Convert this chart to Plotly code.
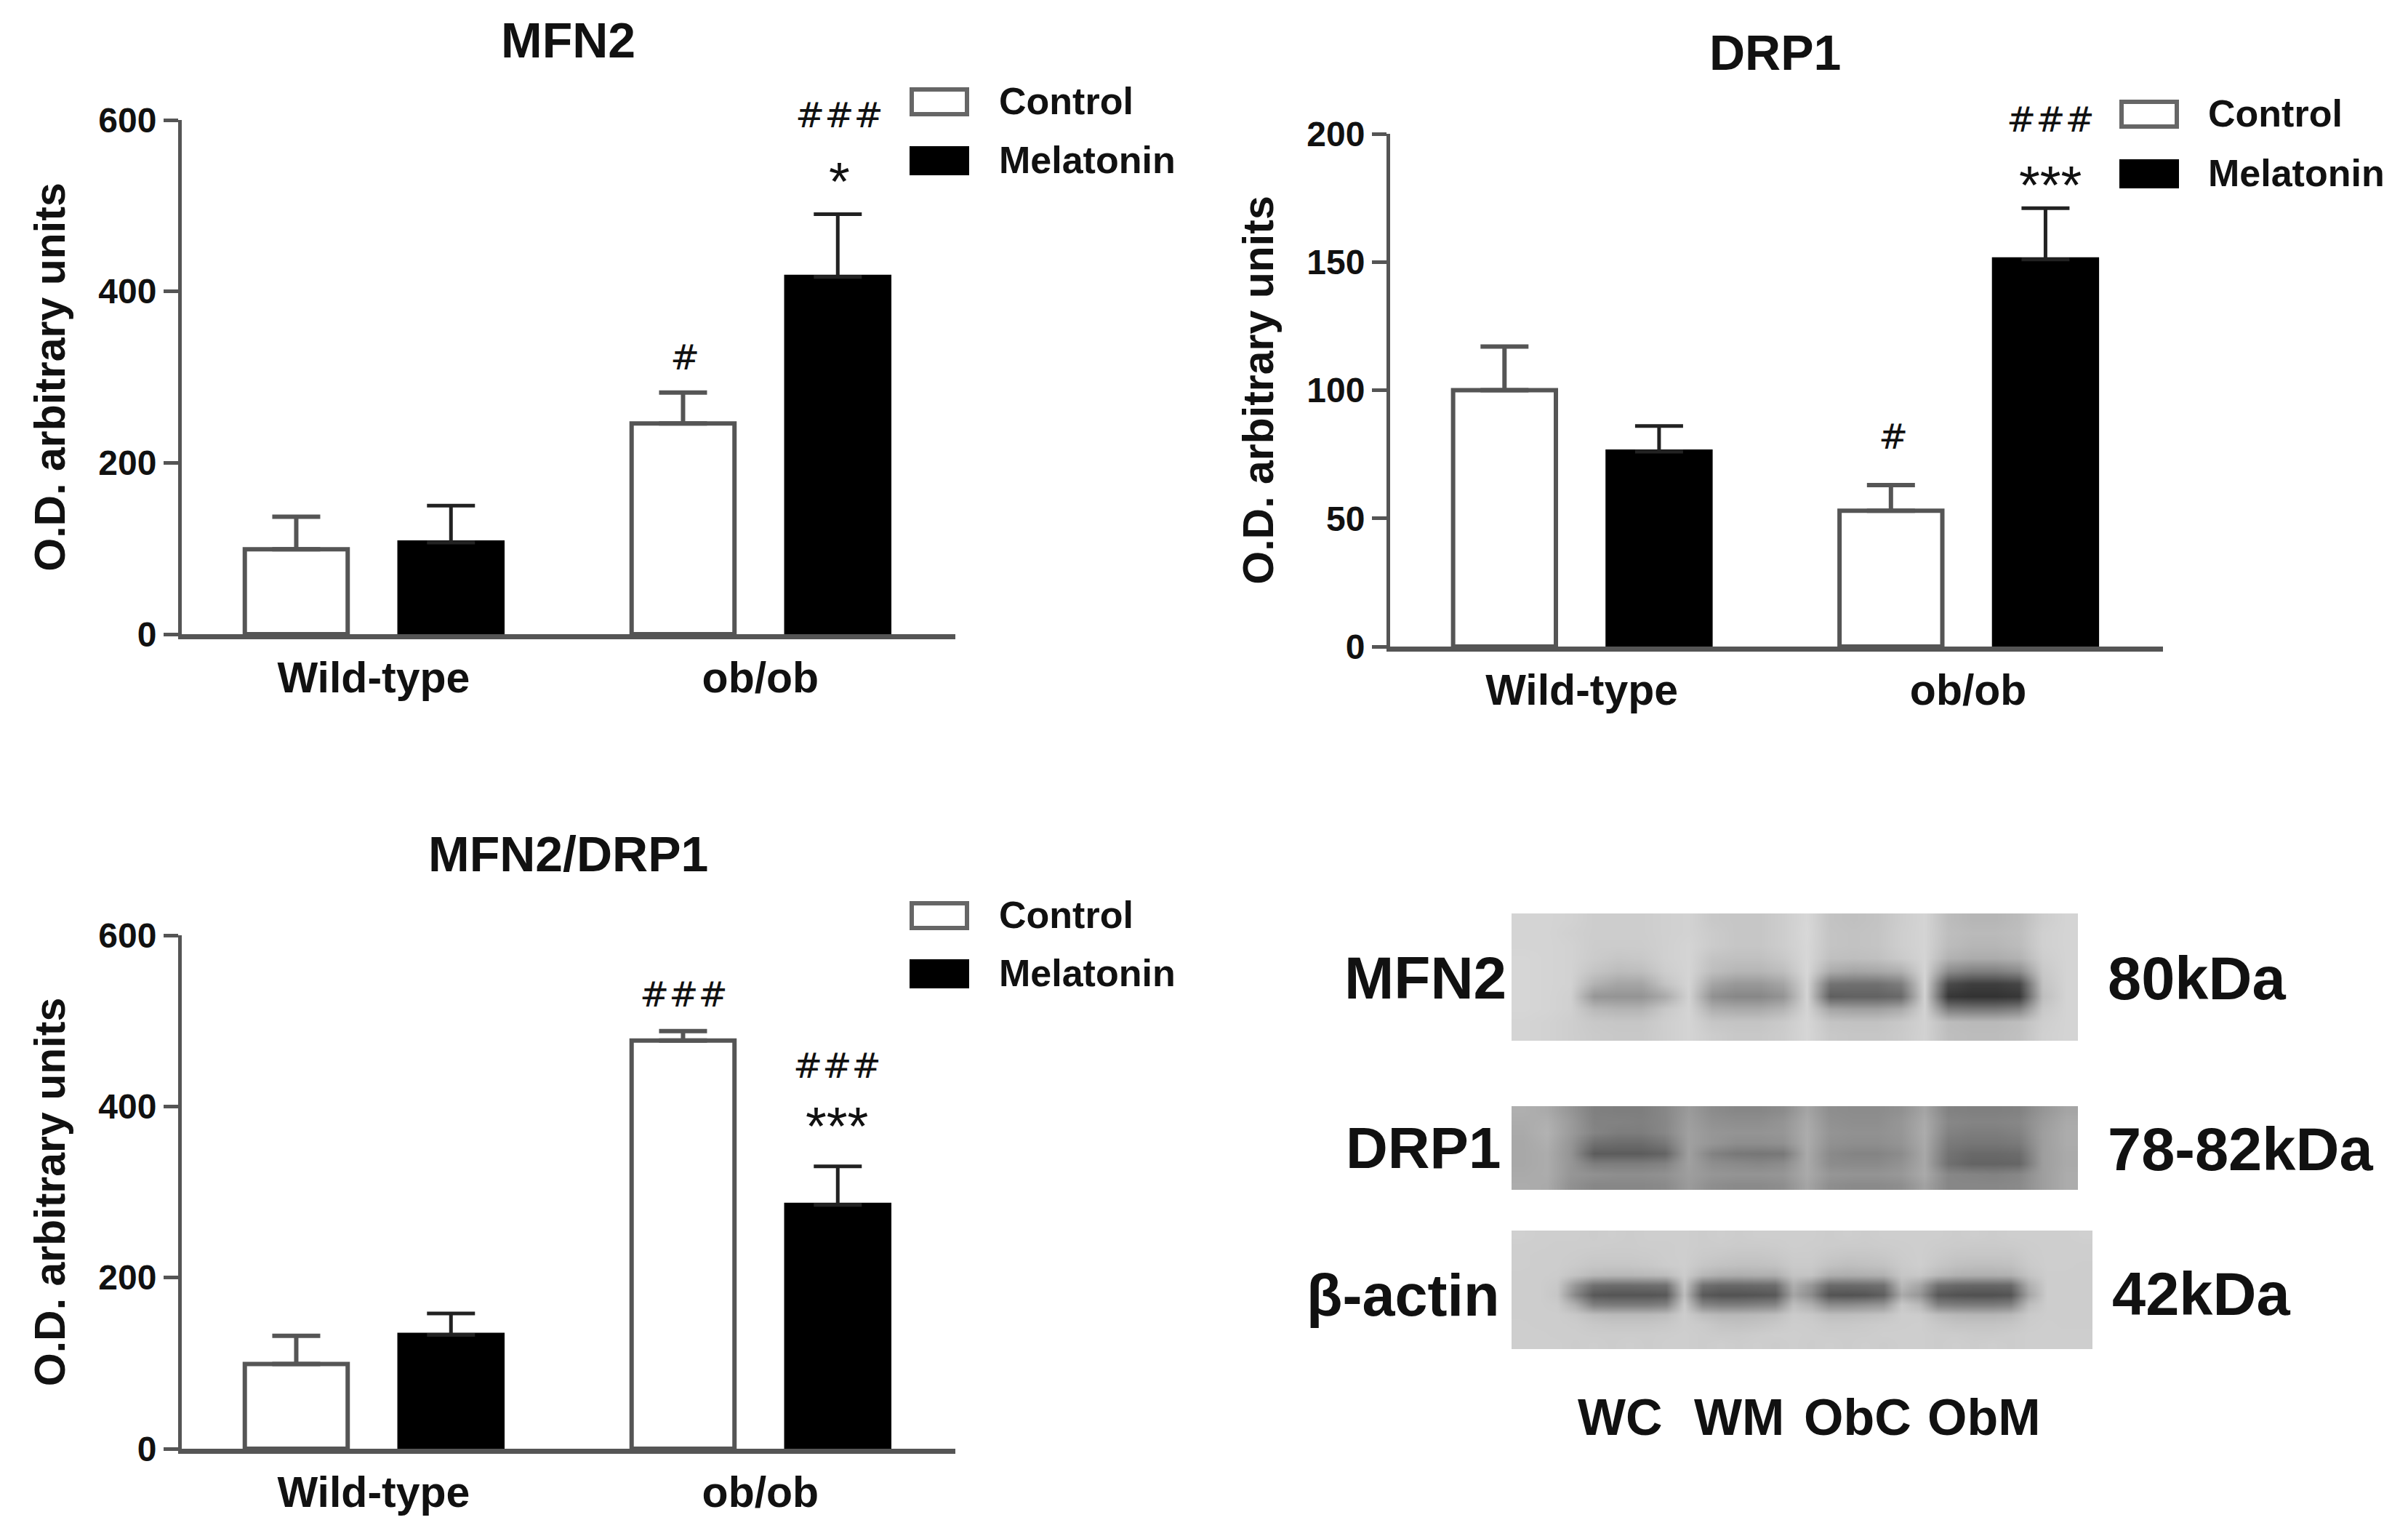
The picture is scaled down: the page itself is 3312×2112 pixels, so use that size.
import plotly.graph_objects as go

W, H = 3312, 2112
FONT = "Liberation Sans"
LINE = "#555555"
INK = "#111111"

groups = ["Wild-type", "ob/ob"]
y_title = "O.D. arbitrary units"
series_names = ["Control", "Melatonin"]

mfn2_control = [99, 246]
mfn2_control_err = [38, 36]
mfn2_melatonin = [107, 417]
mfn2_melatonin_err = [43, 73]

drp1_control = [100, 53]
drp1_control_err = [17, 10]
drp1_melatonin = [76, 151]
drp1_melatonin_err = [10, 20]

ratio_control = [99, 477]
ratio_control_err = [33, 11]
ratio_melatonin = [133, 285]
ratio_melatonin_err = [25, 45]

mfn2_ticks = [0, 200, 400, 600]
drp1_ticks = [0, 50, 100, 150, 200]
ratio_ticks = [0, 200, 400, 600]

# Western blot grey levels (rows top to bottom)
blot_mfn2 = [
    [212,212,210,205,205,205,208,210,200,198,198,205,215,195,192,195,205,212,188,182,182,188,205,212],
    [212,212,208,205,205,205,208,210,203,198,198,205,216,196,194,196,206,212,190,186,186,190,208,212],
    [212,212,210,204,204,204,208,212,203,198,198,205,215,196,194,196,206,212,188,182,182,188,208,212],
    [214,212,210,203,198,200,208,212,195,192,192,200,215,192,190,192,202,212,178,172,172,178,205,212],
    [214,212,210,196,188,190,205,212,190,182,182,190,215,172,165,168,176,212,140,128,128,140,200,212],
    [214,212,210,178,165,165,195,212,165,152,152,165,212,115,112,112,125,212,75,62,62,70,195,212],
    [214,212,208,150,148,148,170,210,145,135,135,148,212,95,98,98,105,210,55,50,50,55,190,212],
    [214,212,208,185,180,180,200,212,175,170,170,180,212,165,160,160,170,210,125,120,120,130,200,212],
    [212,210,206,200,198,198,206,212,198,196,196,202,214,196,194,194,200,210,188,185,185,190,206,212],
    [212,210,206,202,200,200,206,212,204,200,200,204,214,200,198,198,202,210,190,188,188,192,208,212],
]
blot_drp1 = [
    [175,170,150,128,126,126,135,155,140,135,135,140,165,142,140,140,145,165,130,128,128,130,150,165],
    [172,175,155,130,130,128,135,158,145,142,142,148,170,145,142,142,150,170,135,132,132,135,155,170],
    [170,178,155,132,125,125,135,160,150,148,148,150,172,148,145,145,150,172,130,125,125,130,158,172],
    [168,175,150,112,108,108,120,160,150,142,142,145,172,145,142,142,148,170,122,118,118,122,158,172],
    [168,172,148,92,92,92,100,160,130,120,118,120,170,138,132,132,140,168,115,105,105,108,158,170],
    [168,172,150,125,125,125,130,160,142,138,135,140,170,140,138,138,146,168,112,100,100,102,158,170],
    [170,172,150,145,142,142,145,158,150,148,148,150,170,150,148,148,152,170,135,132,130,135,158,172],
    [172,170,145,135,135,135,138,155,142,138,138,142,165,142,138,138,142,162,135,135,135,138,158,172],
]
blot_actin = [
    [208,206,206,206,204,206,204,206,206,206,204,206,204,206,206,206,206,204,206,204,206,206,206,206,204,206,204,206,206,206,206,208],
    [206,206,205,205,205,204,204,205,205,206,204,204,203,203,204,206,205,204,203,203,204,205,206,204,203,202,202,203,205,206,206,206],
    [206,205,205,204,202,202,202,203,205,206,202,200,198,198,200,204,204,200,198,198,200,204,206,202,198,198,198,198,204,206,206,206],
    [206,205,205,202,198,198,198,200,204,206,198,194,192,192,194,202,202,194,190,192,194,202,206,198,192,190,190,192,202,206,206,205],
    [205,205,204,195,186,184,184,186,190,204,184,176,174,176,176,196,196,176,174,176,178,198,200,186,178,176,176,178,196,205,205,205],
    [205,205,200,150,112,108,108,110,112,198,112,104,104,106,108,175,150,106,106,108,112,185,165,112,104,102,102,104,175,205,205,205],
    [205,205,198,135,88,84,84,84,88,190,90,82,82,84,88,165,140,84,82,84,95,170,150,88,82,80,80,84,165,205,205,205],
    [205,205,203,175,128,124,124,124,130,202,134,126,126,130,134,190,175,140,140,145,150,200,185,130,125,124,124,130,190,205,205,205],
    [205,205,205,200,190,186,186,186,190,205,190,184,184,186,190,203,200,190,190,192,195,205,204,190,184,182,182,186,202,205,205,205],
    [206,205,205,204,200,198,198,198,200,205,202,196,194,196,200,205,204,200,200,202,204,205,206,200,196,196,196,198,204,206,205,205],
    [206,206,205,205,204,204,204,204,205,206,204,202,202,204,206,206,205,204,204,204,206,206,206,204,204,202,202,204,206,206,206,206],
    [206,206,206,204,206,204,206,204,206,206,204,206,204,206,204,206,204,206,204,206,204,206,206,204,206,204,206,204,206,206,206,206],
]


def px(x):
    return x / W


def py(y):
    return 1 - y / H


fig = go.Figure()
annotations = []
shapes = []


def text(x, y, s, size, bold=True, anchor="center", family=FONT, angle=0, color=INK):
    annotations.append(dict(
        x=px(x), y=py(y), xref="paper", yref="paper", text=s, showarrow=False,
        xanchor=anchor, yanchor="middle", textangle=angle,
        font=dict(family=family, size=size, color=color, weight=700 if bold else 400),
    ))


def marks(x, hash_y=None, hash_s="###", star_y=None, star_s="*"):
    if hash_y is not None:
        text(x, hash_y, hash_s, 48, bold=False, family="DejaVu Sans", color=INK)
    if star_y is not None:
        text(x, star_y + 8, star_s, 74, bold=False, color=INK)


def legend(x0, y1, y2, tx):
    shapes.append(dict(type="rect", xref="paper", yref="paper", x0=px(x0), x1=px(x0 + 76),
                       y0=py(y1 + 17), y1=py(y1 - 17), fillcolor="white",
                       line=dict(color="#666666", width=6)))
    shapes.append(dict(type="rect", xref="paper", yref="paper", x0=px(x0), x1=px(x0 + 76),
                       y0=py(y2 + 17), y1=py(y2 - 17), fillcolor="black",
                       line=dict(color="black", width=6)))
    text(tx, y1 - 1, series_names[0], 52, anchor="left")
    text(tx, y2 - 1, series_names[1], 52, anchor="left")


def bar_panel(idx, box, title, tcenter, control, control_err, melatonin, melatonin_err, ticks):
    suffix = "" if idx == 1 else str(idx)
    x0, y0, x1, y1 = box
    common = dict(x=groups, xaxis=f"x{suffix}", yaxis=f"y{suffix}", showlegend=False)
    err = dict(type="data", symmetric=False, color=LINE, thickness=6, width=33)
    err_dark = dict(err, color="#222222", thickness=5)
    fig.add_trace(go.Bar(name=series_names[0], y=control, marker=dict(color="white", line=dict(color=LINE, width=6)),
                         error_y=dict(err, array=control_err, arrayminus=[0, 0]), **common))
    fig.add_trace(go.Bar(name=series_names[1], y=melatonin, marker=dict(color="black", line=dict(color="black", width=6)),
                         error_y=dict(err_dark, array=melatonin_err, arrayminus=[0, 0]), **common))
    fig.update_layout(**{
        f"xaxis{suffix}": dict(
            domain=[px(x0), px(x1)], anchor=f"y{suffix}", type="category", range=[-0.496, 1.504],
            showgrid=False, zeroline=False, showline=True, linecolor=LINE, linewidth=7, ticks="",
            tickfont=dict(family=FONT, size=59, color=INK, weight=700),
            ticklabelstandoff=2,
        ),
        f"yaxis{suffix}": dict(
            domain=[py(y1), py(y0)], anchor=f"x{suffix}", range=[ticks[0], ticks[-1]], tickvals=ticks,
            showgrid=False, zeroline=False, showline=True, linecolor=LINE, linewidth=5,
            ticks="outside", ticklen=20, tickwidth=5, tickcolor=LINE,
            tickfont=dict(family=FONT, size=48, color=INK, weight=700),
            title=dict(text=y_title, font=dict(family=FONT, size=59, color=INK, weight=700), standoff=28),
        ),
    })
    text(tcenter[0], tcenter[1], title, 68)


bar_panel(1, (250, 165, 1314, 872), "MFN2", (781, 55),
          mfn2_control, mfn2_control_err, mfn2_melatonin, mfn2_melatonin_err, mfn2_ticks)
bar_panel(2, (1912, 184, 2975, 889), "DRP1", (2441, 72),
          drp1_control, drp1_control_err, drp1_melatonin, drp1_melatonin_err, drp1_ticks)
bar_panel(3, (250, 1286, 1314, 1992), "MFN2/DRP1", (781, 1174),
          ratio_control, ratio_control_err, ratio_melatonin, ratio_melatonin_err, ratio_ticks)

legend(1254, 140, 221, 1372)
legend(2918, 157, 239, 3035)
legend(1254, 1259, 1339, 1372)

marks(1154, hash_y=158, star_y=241)
marks(942, hash_y=491, hash_s="#")
marks(2820, hash_y=164, star_y=247, star_s="***")
marks(2604, hash_y=600, hash_s="#")
marks(940, hash_y=1367)
marks(1151, hash_y=1465, star_y=1540, star_s="***")


def blot(idx, box, z):
    x0, y0, x1, y1 = box
    fig.add_trace(go.Heatmap(z=z, xaxis=f"x{idx}", yaxis=f"y{idx}", zmin=0, zmax=255, zsmooth="best",
                             colorscale=[[0, "black"], [1, "white"]],
                             showscale=False, hoverinfo="skip"))
    fig.update_layout(**{
        f"xaxis{idx}": dict(domain=[px(x0), px(x1)], anchor=f"y{idx}", visible=False,
                            range=[-0.5, len(z[0]) - 0.5]),
        f"yaxis{idx}": dict(domain=[py(y1), py(y0)], anchor=f"x{idx}", visible=False,
                            range=[len(z) - 0.5, -0.5]),
    })


blot(4, (2079, 1256, 2858, 1431), blot_mfn2)
blot(5, (2079, 1521, 2858, 1636), blot_drp1)
blot(6, (2079, 1692, 2878, 1855), blot_actin)

text(2074, 1344, "MFN2", 82, anchor="right")
text(2066, 1578, "DRP1", 80, anchor="right")
text(2064, 1781, "β-actin", 81, anchor="right")
text(2897, 1345, "80kDa", 83, anchor="left")
text(2897, 1580, "78-82kDa", 83, anchor="left")
text(2903, 1779, "42kDa", 83, anchor="left")
for lane, cx in zip(["WC", "WM", "ObC", "ObM"], [2228, 2392, 2555, 2729]):
    text(cx, 1949, lane, 70)

fig.update_layout(
    width=W, height=H, margin=dict(l=0, r=0, t=0, b=0, pad=0, autoexpand=False), autosize=False,
    paper_bgcolor="white", plot_bgcolor="white",
    barmode="group", bargap=0.2, bargroupgap=0.335,
    annotations=annotations, shapes=shapes,
)

fig.write_html("out.html", config=dict(displayModeBar=False),
               post_script="document.body.style.margin='0';document.body.style.overflow='hidden';")
